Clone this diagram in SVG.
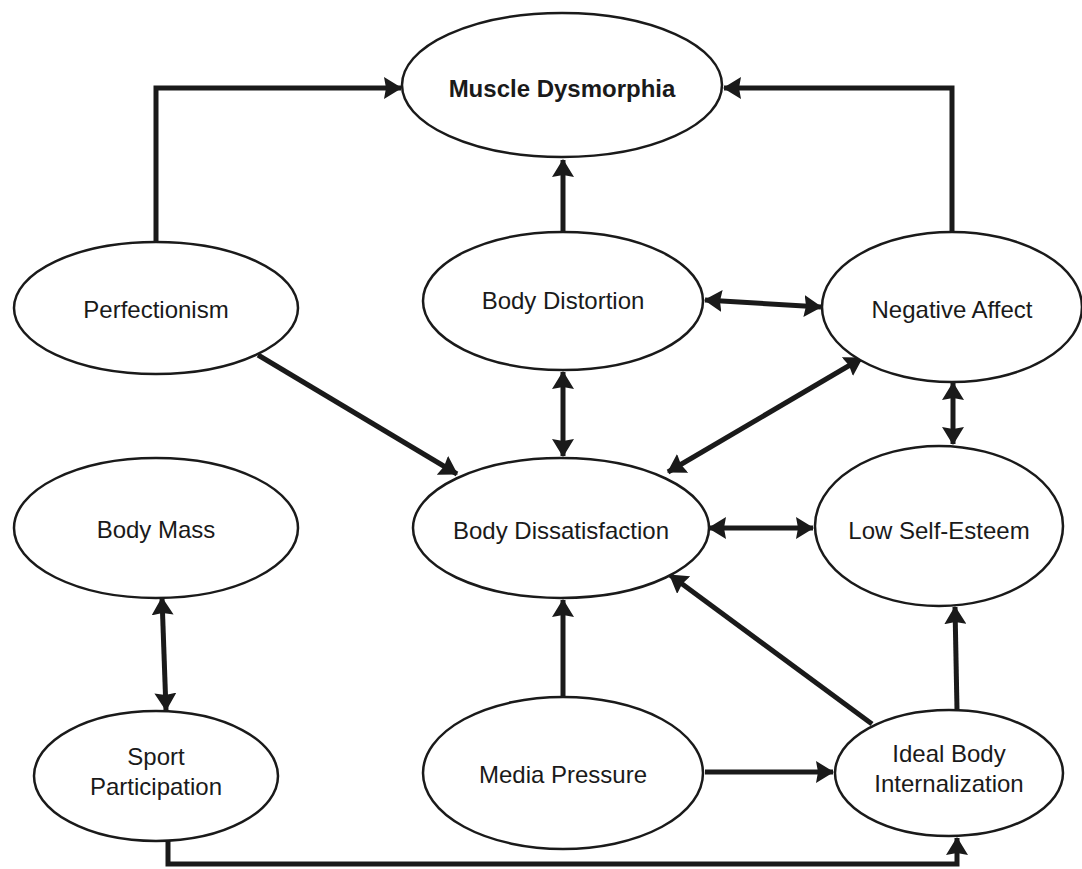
<svg xmlns="http://www.w3.org/2000/svg" width="1082" height="869" viewBox="0 0 1082 869">
<style>
.node ellipse{fill:#fff;stroke:#1a1a1a;stroke-width:2.5}
.node text{font-family:"Liberation Sans",Arial,sans-serif;font-size:24px;fill:#1a1a1a;text-anchor:middle}
.node text.b{font-weight:bold}
.edges path{fill:none;stroke:#1a1a1a;stroke-width:5}
</style>
<defs>
<marker id="ah" markerUnits="userSpaceOnUse" markerWidth="18" markerHeight="22" refX="17" refY="11" orient="auto-start-reverse" viewBox="0 0 18 22">
<path d="M0,0 L18,11 L0,22 L2,11 z" fill="#1a1a1a"/>
</marker>
</defs>
<rect width="1082" height="869" fill="#fff"/>
<g class="edges">
<path d="M156,242 V88 H401" marker-end="url(#ah)"/>
<path d="M952,232 V88 H724" marker-end="url(#ah)"/>
<path d="M563,232 V160" marker-end="url(#ah)"/>
<path d="M705,300 L821,307" marker-start="url(#ah)" marker-end="url(#ah)"/>
<path d="M563,372 V456" marker-start="url(#ah)" marker-end="url(#ah)"/>
<path d="M258,355 L457,474" marker-end="url(#ah)"/>
<path d="M668,472 L862,358" marker-start="url(#ah)" marker-end="url(#ah)"/>
<path d="M953,383 V444" marker-start="url(#ah)" marker-end="url(#ah)"/>
<path d="M709,528 L813,528" marker-start="url(#ah)" marker-end="url(#ah)"/>
<path d="M162,598 L166,710" marker-start="url(#ah)" marker-end="url(#ah)"/>
<path d="M563,697 V600" marker-end="url(#ah)"/>
<path d="M872,724 L670,575" marker-end="url(#ah)"/>
<path d="M957,710 L955,607" marker-end="url(#ah)"/>
<path d="M705,772 L833,772" marker-end="url(#ah)"/>
<path d="M168,840 V864 H957 V838" marker-end="url(#ah)"/>
</g>
<g id="muscle-dysmorphia" class="node"><ellipse cx="562" cy="85" rx="160" ry="72"/><text class="b" x="562" y="97">Muscle Dysmorphia</text></g>
<g id="perfectionism" class="node"><ellipse cx="156" cy="308" rx="142" ry="66"/><text x="156" y="318">Perfectionism</text></g>
<g id="body-distortion" class="node"><ellipse cx="563" cy="301" rx="140" ry="69"/><text x="563" y="309">Body Distortion</text></g>
<g id="negative-affect" class="node"><ellipse cx="952" cy="307" rx="130" ry="75"/><text x="952" y="318">Negative Affect</text></g>
<g id="body-mass" class="node"><ellipse cx="156" cy="528" rx="142" ry="70"/><text x="156" y="538">Body Mass</text></g>
<g id="body-dissatisfaction" class="node"><ellipse cx="561" cy="528" rx="148" ry="70"/><text x="561" y="539">Body Dissatisfaction</text></g>
<g id="low-self-esteem" class="node"><ellipse cx="939" cy="526" rx="124" ry="80"/><text x="939" y="539">Low Self-Esteem</text></g>
<g id="sport-participation" class="node"><ellipse cx="156" cy="776" rx="122" ry="65"/><text x="156" y="765">Sport</text><text x="156" y="795">Participation</text></g>
<g id="media-pressure" class="node"><ellipse cx="563" cy="773" rx="140" ry="76"/><text x="563" y="783">Media Pressure</text></g>
<g id="ideal-body-internalization" class="node"><ellipse cx="949" cy="773" rx="114" ry="63"/><text x="949" y="762">Ideal Body</text><text x="949" y="792">Internalization</text></g>
</svg>
